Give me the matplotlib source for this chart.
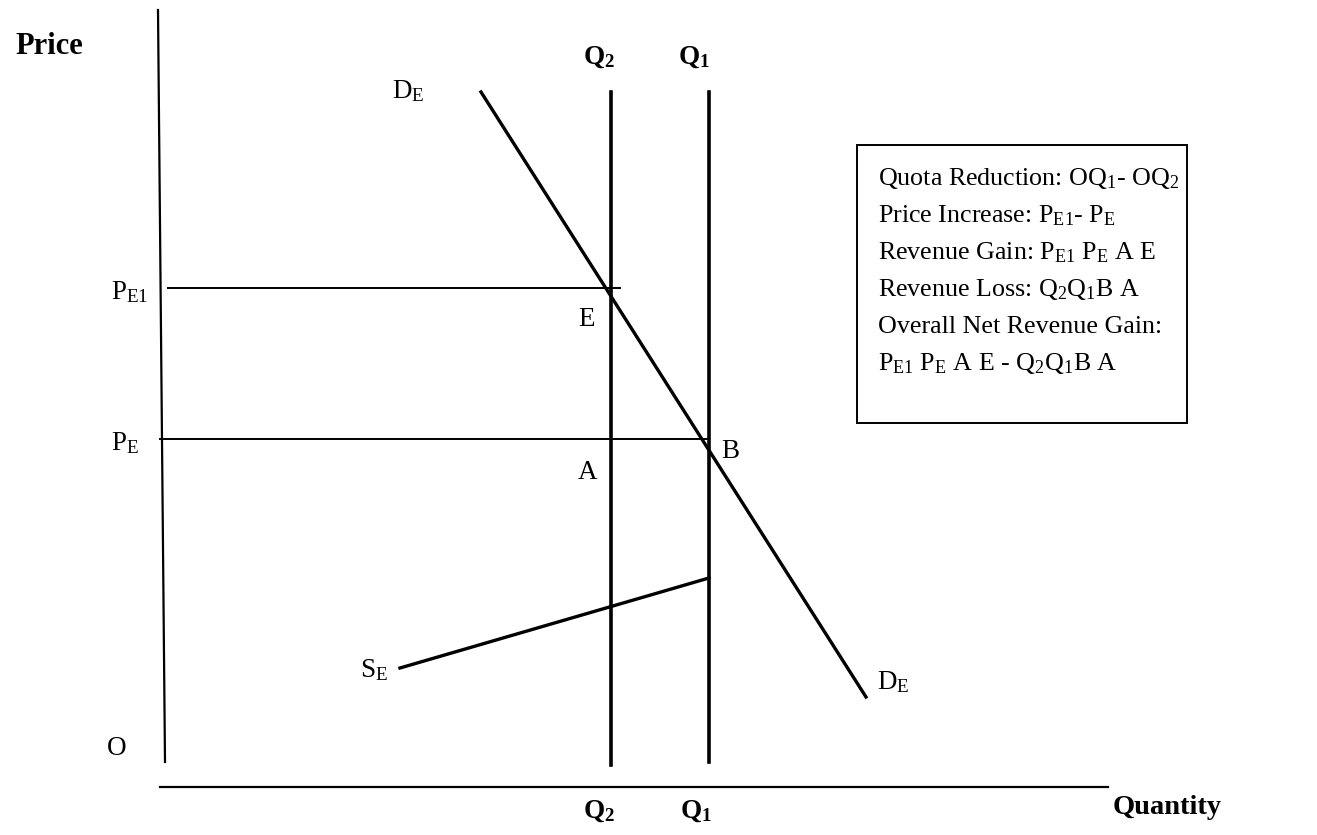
import matplotlib
matplotlib.use("Agg")
import matplotlib.pyplot as plt
from matplotlib.patches import Rectangle

plt.rcParams['font.family'] = ['Liberation Serif', 'DejaVu Serif']
plt.rcParams['mathtext.fontset'] = 'custom'
plt.rcParams['mathtext.rm'] = 'Liberation Serif'
plt.rcParams['mathtext.it'] = 'Liberation Serif:italic'
plt.rcParams['mathtext.bf'] = 'Liberation Serif:bold'

# diagram coordinates (x to the right, y downward, as in the drawing)
price_axis_x = [158, 165]
price_axis_y = [10, 762]
qty_axis_x = [160, 1108]
qty_axis_y = [787, 787]

q2_x = 611
q1_x = 709
quota_top = 92
quota_bottom = [765, 762]

demand_x = [481, 866]
demand_y = [92, 697]
supply_x = [400, 709]
supply_y = [668, 578]

pe1_line_x = [168, 620]
pe1_y = 288
pe_line_x = [160, 709]
pe_y = 439

box = (857, 145, 330, 278)  # left, top, width, height

box_lines = [
    r"Quota Reduction: O$\mathrm{Q}_{1}$- O$\mathrm{Q}_{2}$",
    r"Price Increase: $\mathrm{P}_{\mathrm{E1}}$- $\mathrm{P}_{\mathrm{E}}$",
    r"Revenue Gain: $\mathrm{P}_{\mathrm{E1}}$ $\mathrm{P}_{\mathrm{E}}$ A E",
    r"Revenue Loss: $\mathrm{Q}_{2}\mathrm{Q}_{1}$B A",
    r"Overall Net Revenue Gain:",
    r"$\mathrm{P}_{\mathrm{E1}}$ $\mathrm{P}_{\mathrm{E}}$ A E - $\mathrm{Q}_{2}\mathrm{Q}_{1}$B A",
]

# (x, y, text, size, bold)
labels = [
    (15, 54, "Price", 22, True),
    (583, 64, r"$\mathbf{Q}_{\mathbf{2}}$", 19.5, True),
    (678, 64, r"$\mathbf{Q}_{\mathbf{1}}$", 19.5, True),
    (392, 98, r"$\mathrm{D}_{\mathrm{E}}$", 19.5, False),
    (111, 299, r"$\mathrm{P}_{\mathrm{E1}}$", 19.5, False),
    (578, 326, "E", 19.5, False),
    (111, 450, r"$\mathrm{P}_{\mathrm{E}}$", 19.5, False),
    (721, 458, "B", 19.5, False),
    (578, 479, "A", 19.5, False),
    (360, 677, r"$\mathrm{S}_{\mathrm{E}}$", 19.5, False),
    (877, 689, r"$\mathrm{D}_{\mathrm{E}}$", 19.5, False),
    (107, 755, "O", 19.5, False),
    (583, 818, r"$\mathbf{Q}_{\mathbf{2}}$", 19.5, True),
    (680, 818, r"$\mathbf{Q}_{\mathbf{1}}$", 19.5, True),
    (1113, 814, "Quantity", 20.5, True),
]

fig = plt.figure(figsize=(13.17, 8.35), dpi=100)
ax = fig.add_axes([0, 0, 1, 1])
ax.set_xlim(0, 1317)
ax.set_ylim(835, 0)
ax.axis('off')

ax.plot(price_axis_x, price_axis_y, color='black', lw=1.6)
ax.plot(qty_axis_x, qty_axis_y, color='black', lw=1.6)
ax.plot([q2_x, q2_x], [quota_top, quota_bottom[0]], color='black', lw=2.6)
ax.plot([q1_x, q1_x], [quota_top, quota_bottom[1]], color='black', lw=2.6)
ax.plot(demand_x, demand_y, color='black', lw=2.4)
ax.plot(supply_x, supply_y, color='black', lw=2.4)
ax.plot(pe1_line_x, [pe1_y, pe1_y], color='black', lw=1.4)
ax.plot(pe_line_x, [pe_y, pe_y], color='black', lw=1.4)

ax.add_patch(Rectangle((box[0], box[1]), box[2], box[3], fill=False,
                       edgecolor='black', lw=1.4))
for i, line in enumerate(box_lines):
    ax.text(878, 185 + i * 37, line, fontsize=18.7, va='baseline', ha='left')

for x, y, s, size, bold in labels:
    ax.text(x, y, s, fontsize=size, va='baseline', ha='left',
            fontweight='bold' if bold else 'normal')

fig.savefig("out.png", dpi=100)
